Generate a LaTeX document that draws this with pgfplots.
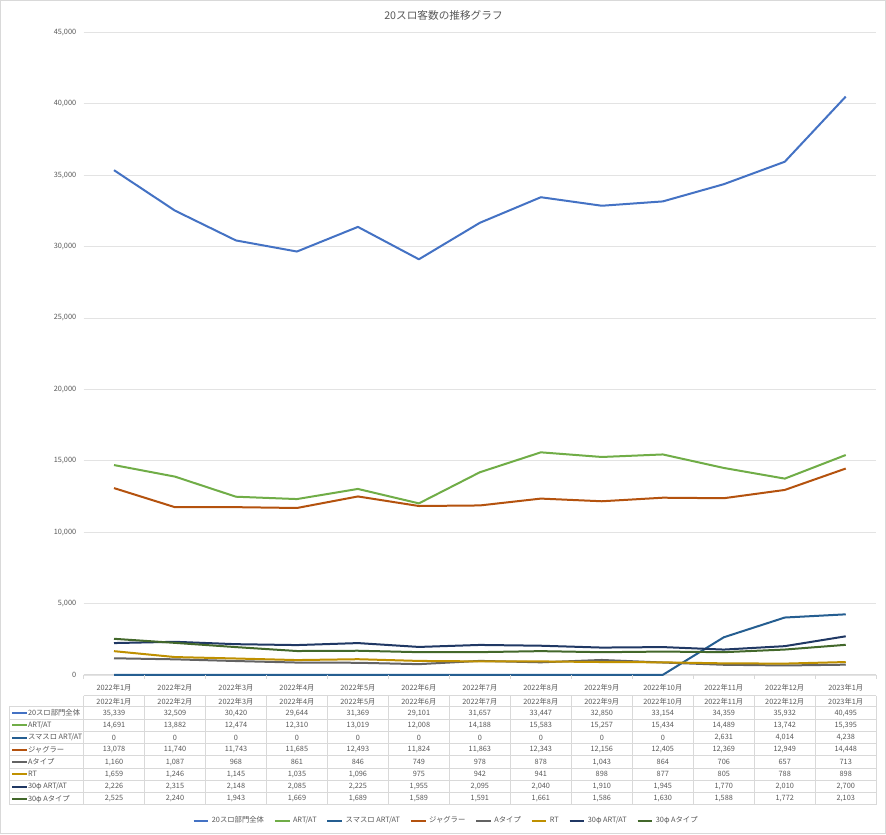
\documentclass[border=0pt]{standalone}
\usepackage{pgfplots}
\pgfplotsset{compat=1.18}
\usepackage{pgfplotstable}
\usepackage{fontspec}
\setmainfont{Noto Sans CJK JP}
\definecolor{c1}{HTML}{4472C4}
\definecolor{c2}{HTML}{70AD47}
\definecolor{c3}{HTML}{255E91}
\definecolor{c4}{HTML}{B4520E}
\definecolor{c5}{HTML}{636363}
\definecolor{c6}{HTML}{BF9000}
\definecolor{c7}{HTML}{203864}
\definecolor{c8}{HTML}{43682B}
\definecolor{txt}{HTML}{595959}
\definecolor{grd}{HTML}{E3E3E3}
\definecolor{bdr}{HTML}{D9D9D9}

\pgfplotstableread{
x s1 s2 s3 s4 s5 s6 s7 s8
0 35339 14691 0 13078 1160 1659 2226 2525
1 32509 13882 0 11740 1087 1246 2315 2240
2 30420 12474 0 11743 968 1145 2148 1943
3 29644 12310 0 11685 861 1035 2085 1669
4 31369 13019 0 12493 846 1096 2225 1689
5 29101 12008 0 11824 749 975 1955 1589
6 31657 14188 0 11863 978 942 2095 1591
7 33447 15583 0 12343 878 941 2040 1661
8 32850 15257 0 12156 1043 898 1910 1586
9 33154 15434 0 12405 864 877 1945 1630
10 34359 14489 2631 12369 706 805 1770 1588
11 35932 13742 4014 12949 657 788 2010 1772
12 40495 15395 4238 14448 713 898 2700 2103
}\datatable

\begin{document}
\begin{tikzpicture}[x=0.75pt,y=0.75pt,font=\fontsize{5.5}{6.5}\selectfont]
\draw[bdr,fill=white] (-83.3,-159) rectangle (802.7,675);
\node[txt,font=\fontsize{8}{9}\selectfont] at (360.2,660) {20スロ客数の推移グラフ};
\begin{axis}[
  at={(0,0)}, anchor=south west, scale only axis,
  width=594.9pt, height=482.25pt,
  xmin=-0.5, xmax=12.5, ymin=0, ymax=45000,
  ytick={0,5000,...,45000},
  xtick={0,...,12},
  xticklabels={2022年1月,2022年2月,2022年3月,2022年4月,2022年5月,2022年6月,2022年7月,2022年8月,2022年9月,2022年10月,2022年11月,2022年12月,2023年1月},
  axis x line*=bottom, axis y line*=left,
  y axis line style={draw=none},
  x axis line style={bdr,line width=0.6pt},
  major tick length=0pt,
  ymajorgrids, grid style={grd,line width=0.5pt},
  tick label style={txt,font=\fontsize{5.5}{6.5}\selectfont},
  /pgf/number format/.cd, 1000 sep={,}, assume math mode=true, /pgfplots/.cd,
  scaled y ticks=false,
  yticklabel style={xshift=-2pt},
  xticklabel style={yshift=-3.5pt},
  clip=false,
  legend columns=8,
  legend style={at={(0.458,-0.227)},anchor=center,draw=none,fill=none,
    font=\fontsize{5.5}{6.5}\selectfont,text=txt,
    /tikz/every even column/.append style={column sep=5.5pt}},
  legend image code/.code={\draw[#1,line width=1.3pt] (0pt,0pt) -- (11pt,0pt);},
  every axis plot/.append style={line width=1.5pt, mark=none, line join=round},
]
\addplot[c1] table[x=x,y=s1]{\datatable}; \addlegendentry{20スロ部門全体}
\addplot[c2] table[x=x,y=s2]{\datatable}; \addlegendentry{ART/AT}
\addplot[c3] table[x=x,y=s3]{\datatable}; \addlegendentry{スマスロ ART/AT}
\addplot[c4] table[x=x,y=s4]{\datatable}; \addlegendentry{ジャグラー}
\addplot[c5] table[x=x,y=s5]{\datatable}; \addlegendentry{Aタイプ}
\addplot[c6] table[x=x,y=s6]{\datatable}; \addlegendentry{RT}
\addplot[c7] table[x=x,y=s7]{\datatable}; \addlegendentry{30φ ART/AT}
\addplot[c8] table[x=x,y=s8]{\datatable}; \addlegendentry{30φ Aタイプ}
\end{axis}
% boundary ticks
\foreach \i in {0,...,13} {\draw[bdr,line width=0.6pt] ({61.015*\i},0) -- ({61.015*\i},-4);}
% table grid
\draw[bdr,line width=0.6pt] (0,-21) -- (793.2,-21);
\foreach \j in {0,...,8} {\draw[bdr,line width=0.6pt] (-74.3,{-32-12.25*\j}) -- (793.2,{-32-12.25*\j});}
\draw[bdr,line width=0.6pt] (-74.3,-32) -- (-74.3,-130);
\foreach \i in {0,...,13} {\draw[bdr,line width=0.6pt] ({61.015*\i},-21) -- ({61.015*\i},-130);}
% header
\foreach \m [count=\i from 0] in {2022年1月,2022年2月,2022年3月,2022年4月,2022年5月,2022年6月,2022年7月,2022年8月,2022年9月,2022年10月,2022年11月,2022年12月,2023年1月}
  {\node[txt,inner sep=0pt] at ({30.5+61.015*\i},-26.5) {\m};}
% values
\foreach \c in {1,...,8} {
  \foreach \r in {0,...,12} {
    \pgfplotstablegetelem{\r}{s\c}\of\datatable
    \node[txt,inner sep=0pt] at ({30.5+61.015*\r},{-26-12.25*\c}) {\pgfmathprintnumber[fixed,precision=0,1000 sep={,},assume math mode=true]{\pgfplotsretval}};
  }
}
% row labels
\foreach \c/\lab in {1/20スロ部門全体,2/ART{/}AT,3/スマスロ ART{/}AT,4/ジャグラー,5/Aタイプ,6/RT,7/30φ ART{/}AT,8/30φ Aタイプ} {
  \draw[c\c,line width=1.5pt] (-71.3,{-26-12.25*\c}) -- (-56.3,{-26-12.25*\c});
  \node[txt,inner sep=0pt,anchor=west,font=\fontsize{5.5}{6.5}\selectfont] at (-55.8,{-26-12.25*\c}) {\lab};
}
\end{tikzpicture}
\end{document}
